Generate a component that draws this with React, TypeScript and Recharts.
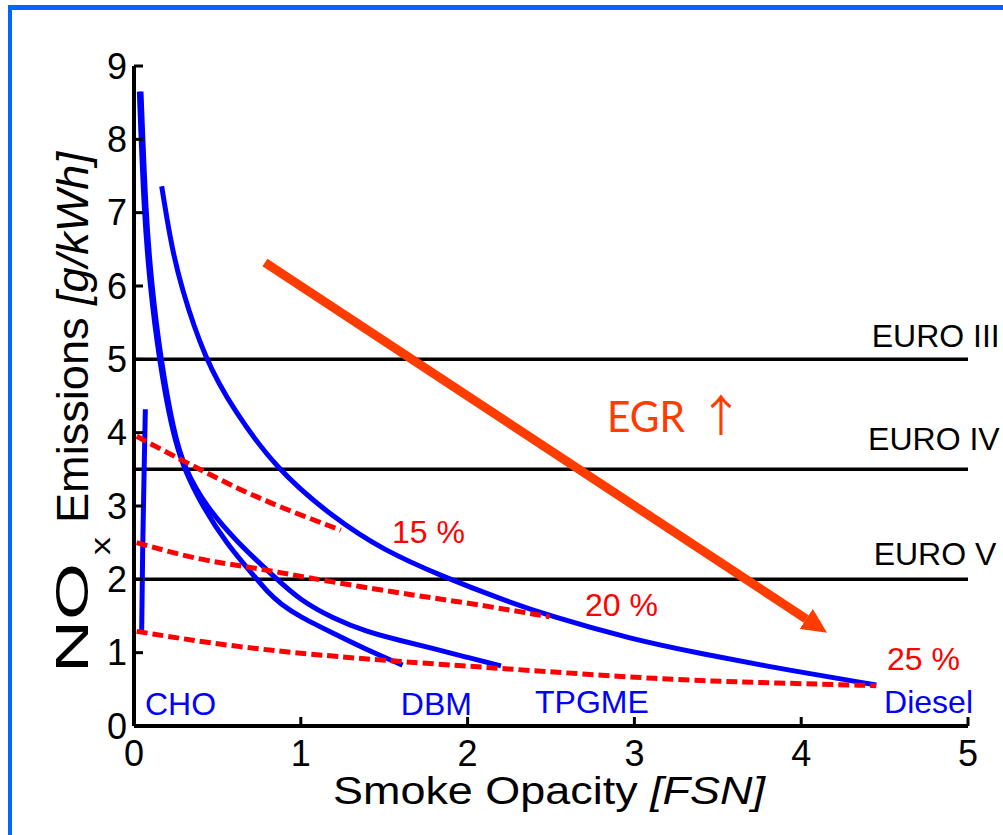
import React from 'react';
import { LineChart, Line, XAxis, YAxis, ReferenceLine, ReferenceDot } from 'recharts';

// ---------- data ----------
const xTicks = [0, 1, 2, 3, 4, 5];
const yTicks = [0, 1, 2, 3, 4, 5, 6, 7, 8, 9];

const choX = [0.046, 0.052, 0.06, 0.068];
const choY = [1.3, 2.4, 3.4, 4.32];

const dbmX = [0.032, 0.06, 0.096, 0.15, 0.23, 0.3, 0.41, 0.55, 0.737, 0.8, 0.88, 0.994, 1.19, 1.395, 1.61];
const dbmY = [8.65, 7.0, 6.0, 5.0, 4.0, 3.5, 3.0, 2.5, 2.0, 1.83, 1.66, 1.49, 1.27, 1.04, 0.83];

const tpgmeX = [0.042, 0.07, 0.106, 0.16, 0.238, 0.305, 0.43, 0.62, 0.857, 0.994, 1.19, 1.4, 1.59, 1.79, 1.99, 2.2];
const tpgmeY = [8.65, 7.0, 6.0, 5.0, 4.0, 3.5, 3.0, 2.5, 2.0, 1.72, 1.47, 1.28, 1.17, 1.06, 0.94, 0.82];

const dieselX = [0.166, 0.22, 0.28, 0.425, 0.6, 0.855, 1.19, 1.49, 1.87, 2.19, 2.49, 2.99, 3.39, 3.95, 4.45];
const dieselY = [7.36, 6.6, 6.0, 5.0, 4.3, 3.5, 2.85, 2.4, 2.02, 1.74, 1.5, 1.18, 0.99, 0.75, 0.56];

const egr15X = [0.016, 0.315, 0.635, 0.914, 1.24];
const egr15Y = [3.95, 3.59, 3.22, 2.95, 2.67];

const egr20X = [0.016, 0.395, 0.695, 0.994, 1.59, 2.0, 2.49];
const egr20Y = [2.5, 2.26, 2.17, 2.04, 1.81, 1.68, 1.49];

const egr25X = [0.016, 0.594, 1.19, 1.59, 2.17, 3.19, 3.79, 4.45];
const egr25Y = [1.29, 1.08, 0.95, 0.88, 0.79, 0.63, 0.59, 0.55];

const egrArrowX = [0.785, 4.03];
const egrArrowY = [6.32, 1.46];

const euroLimits = [5, 3.5, 2];
const euroNames = ['EURO III', 'EURO IV', 'EURO V'];
const euroLabelX = [5.19, 5.19, 5.17];
const euroLabelY = [5.17, 3.765, 2.196];

const fuelNames = ['CHO', 'DBM', 'TPGME', 'Diesel'];
const fuelLabelX = [0.066, 2.026, 2.404, 5.03];
const fuelLabelY = [0.15, 0.15, 0.177, 0.177];
const fuelAnchor = ['start', 'end', 'start', 'end'];

const rateNames = ['15 %', '20 %', '25 %'];
const rateLabelX = [1.547, 2.704, 4.514];
const rateLabelY = [2.497, 1.5, 0.764];

const egrLabel = 'EGR';
const egrLabelX = 2.836;
const egrLabelY = 4.01;

// ---------- helpers ----------
const zip = (xs: number[], ys: number[]) => xs.map((x, i) => ({ x, y: ys[i] }));

const FONT = "'Liberation Sans', Arial, sans-serif";
const BLUE = '#0000ff';
const RED = '#ff0000';
const ORANGE = '#ff3c00';

const XTick = (props: any) => {
  const { x, y, payload } = props;
  return (
    <g>
      <line x1={x} y1={y} x2={x} y2={y - 9} stroke="#000" strokeWidth={3} />
      <text x={x} y={y + 14} dy="0.71em" textAnchor="middle" fontSize={36} fontFamily={FONT} fill="#000">
        {payload.value}
      </text>
    </g>
  );
};

const YTick = (props: any) => {
  const { x, y, payload } = props;
  return (
    <g>
      <line x1={x} y1={y} x2={x + 9} y2={y} stroke="#000" strokeWidth={3} />
      <text x={x - 7} y={y} dy="0.355em" textAnchor="end" fontSize={36} fontFamily={FONT} fill="#000">
        {payload.value}
      </text>
    </g>
  );
};

const XTitle = () => (
  <text x={333} y={804} fontSize={38} fontFamily={FONT} fill="#000" textLength={432} lengthAdjust="spacingAndGlyphs">
    Smoke Opacity <tspan fontStyle="italic">[FSN]</tspan>
  </text>
);

const YTitle = () => (
  <g transform="translate(88,673) rotate(-90)">
    <text x={0} y={0} fontSize={46} fontFamily={FONT} fill="#000" textLength={110} lengthAdjust="spacingAndGlyphs">
      NO
    </text>
    <text x={118} y={22} fontSize={28} fontFamily={FONT} fill="#000" textLength={18} lengthAdjust="spacingAndGlyphs">
      x
    </text>
    <text x={150} y={0} fontSize={45} fontFamily={FONT} fill="#000" textLength={371} lengthAdjust="spacingAndGlyphs">
      Emissions <tspan fontStyle="italic">[g/kWh]</tspan>
    </text>
  </g>
);

const textShape = (label: string, color: string, anchor: string, size: number) => (p: any) => (
  <text x={p.cx} y={p.cy} textAnchor={anchor as any} fontSize={size} fontFamily={FONT} fill={color}>
    {label}
  </text>
);

const egrShape = (p: any) => (
  <g>
    <text x={p.cx} y={p.cy} fontSize={43} fontFamily="Lato, 'Open Sans', sans-serif" fill={ORANGE} textLength={78} lengthAdjust="spacingAndGlyphs">
      {egrLabel}
    </text>
    <text x={p.cx + 92} y={p.cy} fontSize={44} fontFamily="'Noto Sans CJK SC', sans-serif" fill={ORANGE}>
      ↑
    </text>
  </g>
);

export default function App() {
  const series = [
    { key: 'cho', data: zip(choX, choY), color: BLUE, w: 5, dash: undefined, type: 'linear' },
    { key: 'dbm', data: zip(dbmX, dbmY), color: BLUE, w: 5, dash: undefined, type: 'basis' },
    { key: 'tpgme', data: zip(tpgmeX, tpgmeY), color: BLUE, w: 5, dash: undefined, type: 'basis' },
    { key: 'diesel', data: zip(dieselX, dieselY), color: BLUE, w: 5, dash: undefined, type: 'basis' },
    { key: 'e15', data: zip(egr15X, egr15Y), color: RED, w: 5, dash: '11 5', type: 'basis' },
    { key: 'e20', data: zip(egr20X, egr20Y), color: RED, w: 5, dash: '11 5', type: 'basis' },
    { key: 'e25', data: zip(egr25X, egr25Y), color: RED, w: 5, dash: '11 5', type: 'basis' },
  ];

  return (
    <div style={{ position: 'absolute', left: 0, top: 0, width: 1003, height: 835, background: '#fff', overflow: 'hidden' }}>
      <div
        style={{
          position: 'absolute',
          left: 8,
          top: 5,
          width: 1100,
          height: 900,
          borderTop: '5px solid #0066ff',
          borderLeft: '4px solid #0066ff',
        }}
      />
      <svg width={0} height={0} style={{ position: 'absolute' }}>
        <defs>
          <marker
            id="egrHead"
            viewBox="0 0 25 24"
            refX={0}
            refY={12}
            markerWidth={25}
            markerHeight={24}
            markerUnits="userSpaceOnUse"
            orient="auto"
          >
            <path d="M0,0 L25,12 L0,24 Z" fill={ORANGE} />
          </marker>
        </defs>
      </svg>
      <div style={{ position: 'absolute', left: 0, top: 0 }}>
        <LineChart width={1003} height={835} margin={{ top: 66, right: 35, bottom: 0, left: 0 }}>
          <XAxis
            type="number"
            dataKey="x"
            domain={[0, 5]}
            ticks={xTicks}
            interval={0}
            tickSize={0}
            tickMargin={0}
            tickLine={false}
            tick={<XTick />}
            height={109}
            axisLine={{ stroke: '#000', strokeWidth: 4 }}
            label={<XTitle />}
          />
          <YAxis
            type="number"
            dataKey="y"
            domain={[0, 9]}
            ticks={yTicks}
            interval={0}
            tickSize={0}
            tickMargin={0}
            tickLine={false}
            tick={<YTick />}
            width={134}
            axisLine={{ stroke: '#000', strokeWidth: 4 }}
            label={<YTitle />}
          />
          {euroLimits.map((v, i) => (
            <ReferenceLine key={euroNames[i]} y={v} stroke="#000" strokeWidth={3.5} ifOverflow="visible" />
          ))}
          {series.map((s) => (
            <Line
              key={s.key}
              data={s.data}
              dataKey="y"
              type={s.type as any}
              stroke={s.color}
              strokeWidth={s.w}
              strokeDasharray={s.dash}
              dot={false}
              activeDot={false}
              isAnimationActive={false}
            />
          ))}
          <Line
            data={zip(egrArrowX, egrArrowY)}
            dataKey="y"
            type="linear"
            stroke={ORANGE}
            strokeWidth={9}
            dot={false}
            activeDot={false}
            markerEnd="url(#egrHead)"
            isAnimationActive={false}
          />
          {euroNames.map((n, i) => (
            <ReferenceDot key={n} x={euroLabelX[i]} y={euroLabelY[i]} r={0} ifOverflow="visible" shape={textShape(n, '#000', 'end', 32)} />
          ))}
          {fuelNames.map((n, i) => (
            <ReferenceDot key={n} x={fuelLabelX[i]} y={fuelLabelY[i]} r={0} ifOverflow="visible" shape={textShape(n, BLUE, fuelAnchor[i], 32)} />
          ))}
          {rateNames.map((n, i) => (
            <ReferenceDot key={n} x={rateLabelX[i]} y={rateLabelY[i]} r={0} ifOverflow="visible" shape={textShape(n, RED, 'start', 32)} />
          ))}
          <ReferenceDot x={egrLabelX} y={egrLabelY} r={0} ifOverflow="visible" shape={egrShape} />
        </LineChart>
      </div>
    </div>
  );
}
